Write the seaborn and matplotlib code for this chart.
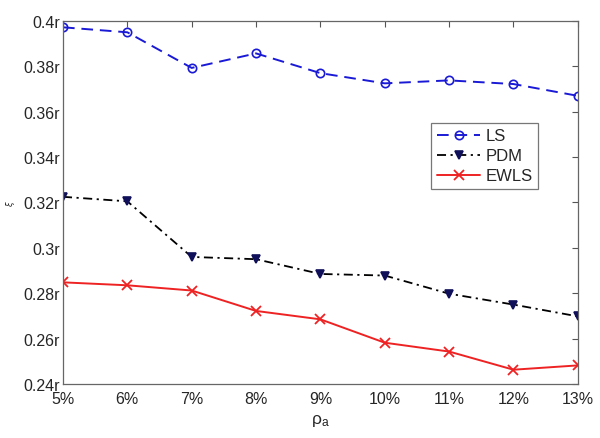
import numpy as np
import pandas as pd
import matplotlib
matplotlib.use("Agg")
import matplotlib.pyplot as plt
import seaborn as sns

# data
x_labels = ["5%", "6%", "7%", "8%", "9%", "10%", "11%", "12%", "13%"]
ls_vals = [0.3972, 0.3950, 0.3793, 0.3857, 0.3770, 0.3725, 0.3738, 0.3722, 0.3670]
pdm_vals = [0.3225, 0.3205, 0.2960, 0.2950, 0.2885, 0.2878, 0.2798, 0.2750, 0.2698]
ewls_vals = [0.2848, 0.2835, 0.2812, 0.2722, 0.2685, 0.2582, 0.2543, 0.2463, 0.2482]
y_ticks = [0.24, 0.26, 0.28, 0.30, 0.32, 0.34, 0.36, 0.38, 0.40]
y_tick_labels = ["0.24r", "0.26r", "0.28r", "0.3r", "0.32r", "0.34r", "0.36r", "0.38r", "0.4r"]

sns.set_style("white")
plt.rcParams["font.family"] = ["Liberation Sans", "DejaVu Sans"]

x = np.arange(len(x_labels))
df = pd.DataFrame({"x": np.tile(x, 3),
                   "val": ls_vals + pdm_vals + ewls_vals,
                   "method": ["LS"] * 9 + ["PDM"] * 9 + ["EWLS"] * 9})

fig = plt.figure(figsize=(6, 4.39), dpi=100)
ax = fig.add_axes([0.105, 0.123, 0.858, 0.827])

styles = {
    "LS": dict(color="#1a1ad6", ls=(0, (6, 3.5)), marker="o", mfc="none", mec="#1a1ad6", ms=6, lw=1.4),
    "PDM": dict(color="black", ls=(0, (5, 2.5, 1.2, 2.5)), marker="v", mfc="#10105a", mec="#10105a", ms=6, lw=1.3),
    "EWLS": dict(color="#ee2222", ls="-", marker="x", mfc="none", mec="#ee2222", ms=7.5, mew=1.3, lw=1.4),
}
for name in ["LS", "PDM", "EWLS"]:
    sub = df[df["method"] == name]
    st = styles[name]
    sns.lineplot(data=sub, x="x", y="val", ax=ax, color=st["color"], linestyle=st["ls"],
                 marker=st["marker"], markerfacecolor=st["mfc"], markeredgecolor=st["mec"],
                 markersize=st["ms"], markeredgewidth=st.get("mew", 1.2), linewidth=st["lw"],
                 label=name)

ax.set_xlim(0, 8)
ax.set_ylim(0.24, 0.40)
ax.set_xticks(x)
ax.set_xticklabels(x_labels, fontsize=11.5)
ax.set_yticks(y_ticks)
ax.set_yticklabels(y_tick_labels, fontsize=11.5)
ax.tick_params(direction="in", length=4, color="#555555", top=True, right=True, pad=2)
ax.tick_params(axis="x", pad=5)
for sp in ax.spines.values():
    sp.set_color("#666666")
    sp.set_linewidth(0.9)
ax.set_xlabel(r"$\mathregular{\rho_a}$", fontsize=12.5, labelpad=4)
ax.set_ylabel(r"$\xi$", fontsize=6, labelpad=5)

leg = ax.legend(loc="upper left", bbox_to_anchor=(0.715, 0.72), fontsize=12, frameon=True,
                fancybox=False, edgecolor="#555555", handlelength=2.6, handletextpad=0.3,
                borderpad=0.35, labelspacing=0.3, borderaxespad=0)
leg.get_frame().set_linewidth(0.9)

fig.savefig("out.png", dpi=100)
